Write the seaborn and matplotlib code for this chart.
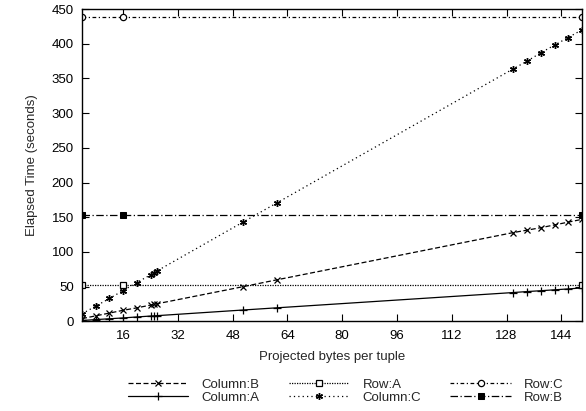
import matplotlib
matplotlib.use("Agg")
import matplotlib.pyplot as plt
import seaborn as sns
import pandas as pd

# ---- data ----
x_col = [4, 8, 12, 16, 20, 24, 25, 26, 51, 61, 130, 134, 138, 142, 146, 150]
column_a = [1.3, 2.6, 3.8, 5, 6.4, 7.7, 8, 8.3, 16.4, 19.6, 41.6, 43, 44.2, 45.5, 46.8, 48.2]
column_b = [4, 8, 12, 16, 19.5, 23.5, 24.5, 25.5, 50, 60, 128, 131.5, 135, 139, 143, 147]
column_c = [11, 22, 33, 44.5, 56, 67, 70, 73, 143, 171, 364, 375, 387, 398, 409, 420]
x_row = [4, 16, 150]
row_a = [52, 52, 52]
row_b = [153, 153, 153]
row_c = [438, 438, 438]
x_ticks = [16, 32, 48, 64, 80, 96, 112, 128, 144]
y_ticks = [0, 50, 100, 150, 200, 250, 300, 350, 400, 450]

sns.set_style("ticks")
plt.rcParams['font.family'] = ['Liberation Sans', 'DejaVu Sans']

fig = plt.figure(figsize=(5.86, 4.11), dpi=100)
ax = fig.add_axes([0.14, 0.218, 0.853, 0.76])

lw = 0.9
k = 'black'
star = (6, 2, 0)

series = [
    ("Column:B", x_col, column_b, dict(linestyle=(0, (4, 2)), marker='x', markersize=4.5, markeredgewidth=0.9)),
    ("Column:A", x_col, column_a, dict(linestyle='-', marker='+', markersize=6, markeredgewidth=0.9)),
    ("Row:A", x_row, row_a, dict(linestyle=(0, (1, 1)), marker='s', markersize=4.5, markerfacecolor='white', markeredgewidth=0.9)),
    ("Column:C", x_col, column_c, dict(linestyle=(0, (1, 2.5)), marker=star, markersize=5, markeredgewidth=1.0)),
    ("Row:C", x_row, row_c, dict(linestyle=(0, (3, 2, 1, 2)), marker='o', markersize=4.5, markerfacecolor='white', markeredgewidth=0.9)),
    ("Row:B", x_row, row_b, dict(linestyle=(0, (6, 2, 1, 2)), marker='s', markersize=5, markerfacecolor='black')),
]

for name, xs, ys, st in series:
    df = pd.DataFrame({"x": xs, "y": ys})
    sns.lineplot(data=df, x="x", y="y", ax=ax, color=k, linewidth=lw,
                 markeredgecolor=k, label=name, legend=False, **st)

ax.set_xlim(4, 150)
ax.set_ylim(0, 450)
ax.set_xticks(x_ticks)
ax.set_yticks(y_ticks)
ax.tick_params(direction='in', length=5, width=0.8, top=True, right=True,
               labelsize=9.5, colors='black', pad=6)
for s in ax.spines.values():
    s.set_visible(True)
    s.set_linewidth(1.0)
    s.set_color('black')

ax.set_xlabel("Projected bytes per tuple", fontsize=9.5, labelpad=7)
ax.set_ylabel("Elapsed Time (seconds)", fontsize=9.5, labelpad=10)

handles, labels = ax.get_legend_handles_labels()
fig.legend(handles, labels, loc='center', bbox_to_anchor=(0.59, 0.048), ncol=3,
           frameon=False, fontsize=9.5, handlelength=4.6, handletextpad=1.0,
           columnspacing=2.2, labelspacing=0.05, borderpad=0)

fig.savefig("out.png", dpi=100)
